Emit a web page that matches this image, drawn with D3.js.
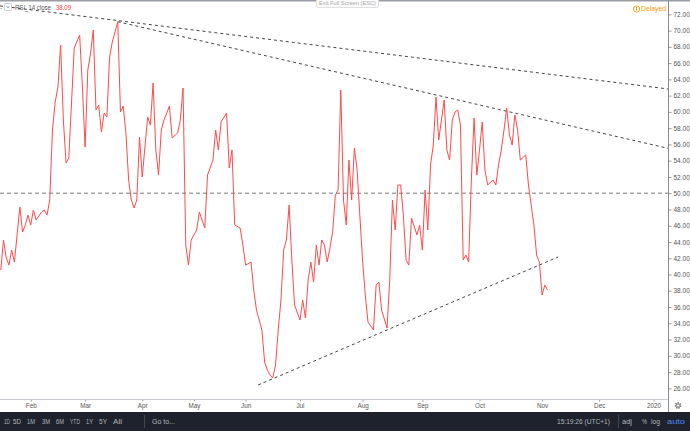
<!DOCTYPE html>
<html><head><meta charset="utf-8">
<script src="https://cdn.jsdelivr.net/npm/d3@7/dist/d3.min.js"></script>
<style>html,body{margin:0;padding:0;background:#fff;overflow:hidden}svg{display:block}</style>
</head><body>
<script>
// bar index (0 = first trading day of Feb 2019) and RSI(14) value
const barIdx = [-11,-10,-9,-8,-7,-6,-5,-4,-3,-2,-1,0,1,2,4,5,6,7,8,9,10,11,12,13,14,15,16,18,19,20,21,22,23,24,25,26,27,28,29,30,32,33,34,35,36,37,38,39,40,41,42,43,44,45,46,47,48,49,51,52,54,55,56,57,58,59,61,62,64,65,67,68,69,70,72,73,74,75,77,78,79,81,82,83,85,86,87,88,89,90,91,92,93,94,95,96,97,99,100,101,102,103,104,105,106,107,108,109,110,111,112,113,114,115,116,117,118,119,120,122,123,124,126,127,128,129,131,132,133,134,135,136,137,138,139,140,142,143,144,145,146,147,148,149,150,152,153,154,155,156,157,158,159,160,161,162,163,164,165,166,167,168,170,171,172,173,174,175,176,177,178,179,180,182,183,184,185,186,187,188,189,190];
const rsi = [40.55,44.24,42.03,41.16,43.0,41.53,44.86,48.3,45.22,46.08,47.31,46.08,47.93,46.7,47.68,47.93,47.31,49.16,57.77,61.21,63.06,68.22,59.0,53.71,54.33,61.09,67.86,69.45,63.06,55.68,65.15,67.24,70.07,60.23,60.84,57.52,59.86,59.37,66.75,68.59,71.09,59.98,60.72,57.4,51.62,49.16,48.18,49.16,56.91,51.99,55.68,59.37,58.38,63.55,55.31,52.23,57.77,59.0,60.72,56.79,57.4,59.0,62.94,43.62,41.16,44.24,45.47,47.68,45.72,52.23,54.08,57.77,55.31,58.76,59.86,53.1,55.31,46.08,45.72,43.62,41.16,41.53,38.09,35.63,33.17,29.23,28.25,27.63,27.27,28.86,33.17,36.86,43.0,44.24,48.54,41.78,36.24,34.4,36.86,34.65,39.32,41.53,39.07,43.62,41.16,44.24,43.62,41.53,43.26,45.22,49.77,50.39,62.69,49.16,46.08,54.08,49.16,55.56,52.85,41.78,37.47,34.15,33.17,38.7,39.07,35.63,33.41,39.32,49.16,45.47,51.01,51.01,47.31,41.78,41.16,46.95,44.86,46.08,43.0,50.39,45.47,53.47,55.92,61.83,56.54,61.46,55.31,54.08,59.0,59.98,60.23,58.38,41.78,42.39,41.53,51.62,59.25,52.23,55.31,58.76,52.85,51.01,51.62,51.01,53.47,55.31,57.77,60.48,57.16,55.92,59.62,57.77,54.08,54.7,51.01,48.54,46.08,42.39,41.53,37.47,38.7,38.09];
const lastValue = "38.09";
const monthLabels = ["Feb","Mar","Apr","May","Jun","Jul","Aug","Sep","Oct","Nov","Dec","2020"];
const monthIdx = [0,20,41,60,79,99,122,144,165,188,209,229];
const yTicks = d3.range(26, 73, 2);
// trend lines: [startIdx, startVal, endIdx, endVal]
const trendLines = [
  [-11.29, 73.03, 234.3, 62.82],
  [32, 71.09, 234.3, 55.52],
  [83.6, 26.41, 193.9, 42.15]
];
const midLevel = 50;
const leftButtons = ["1D","5D","1M","3M","6M","YTD","1Y","5Y","All"];

const W = 690, H = 431;
const plotR = 668, plotT = 4, plotB = 398;
const svg = d3.select("body").append("svg").attr("width", W).attr("height", H);
const font = "'Liberation Sans', Arial, sans-serif";

const x = d3.scaleLinear().domain([-11.29, 234.3]).range([0, plotR]);
const y = d3.scaleLinear().domain([24.81, 73.27]).range([plotB, plotT]);

svg.append("rect").attr("width", W).attr("height", H).attr("fill", "#fff");
svg.append("defs").append("clipPath").attr("id", "clip")
  .append("rect").attr("x", 0).attr("y", 2).attr("width", plotR).attr("height", plotB - 2);

const g = svg.append("g").attr("clip-path", "url(#clip)");
g.append("line").attr("x1", 0).attr("x2", plotR).attr("y1", y(midLevel)).attr("y2", y(midLevel))
  .attr("stroke", "#777").attr("stroke-width", 1).attr("stroke-dasharray", "4,3");
g.selectAll("line.trend").data(trendLines).join("line").attr("class", "trend")
  .attr("x1", d => x(d[0])).attr("y1", d => y(d[1])).attr("x2", d => x(d[2])).attr("y2", d => y(d[3]))
  .attr("stroke", "#444").attr("stroke-width", 1).attr("stroke-dasharray", "3,3");
const pts = barIdx.map((b, i) => [b, rsi[i]]);
g.append("path").datum(pts)
  .attr("d", d3.line().x(d => x(d[0])).y(d => y(d[1])))
  .attr("fill", "none").attr("stroke", "#ff4a4a").attr("stroke-width", 1).attr("stroke-linejoin", "round");

svg.append("rect").attr("x", 0).attr("y", 0).attr("width", W).attr("height", 1.5).attr("fill", "#9a9ca3");

const ya = svg.append("g").attr("transform", `translate(${plotR + 0.5},0)`)
  .call(d3.axisRight(y).tickValues(yTicks).tickFormat(d3.format(".2f")).tickSize(3).tickPadding(2));
ya.select(".domain").remove();
ya.selectAll("line").attr("stroke", "#999");
ya.selectAll("text").attr("font-family", font).attr("font-size", 6.5).attr("fill", "#555");
svg.append("line").attr("x1", plotR + 0.5).attr("x2", plotR + 0.5).attr("y1", 0).attr("y2", 412)
  .attr("stroke", "#8a8d96").attr("stroke-width", 1);

const xa = svg.append("g").attr("transform", `translate(0,${plotB + 1.5})`)
  .call(d3.axisBottom(x).tickValues(monthIdx).tickFormat((d, i) => monthLabels[i]).tickSize(2).tickPadding(2));
xa.select(".domain").remove();
xa.selectAll("line").attr("stroke", "#999");
xa.selectAll("text").attr("font-family", font).attr("font-size", 6.3).attr("fill", "#555");
svg.append("line").attr("x1", 0).attr("x2", plotR).attr("y1", plotB + 1.5).attr("y2", plotB + 1.5)
  .attr("stroke", "#c8cad0").attr("stroke-width", 1);

// gear icon
svg.append("circle").attr("cx", 678).attr("cy", 405.5).attr("r", 2.6).attr("fill", "none")
  .attr("stroke", "#555").attr("stroke-width", 1.4).attr("stroke-dasharray", "1.2,1.1");
svg.append("circle").attr("cx", 678).attr("cy", 405.5).attr("r", 1.6).attr("fill", "none")
  .attr("stroke", "#555").attr("stroke-width", 0.7);

function txt(s, xx, yy, len, fill, size) {
  return svg.append("text").attr("x", xx).attr("y", yy).attr("font-family", font)
    .attr("font-size", size || 6.5).attr("fill", fill).attr("textLength", len)
    .attr("lengthAdjust", "spacingAndGlyphs").text(s);
}

// legend
svg.append("text").attr("x", 0).attr("y", 9.5).attr("font-family", font).attr("font-size", 7).attr("fill", "#888").text("-");
svg.append("rect").attr("x", 4.5).attr("y", 3.5).attr("width", 7).attr("height", 7).attr("rx", 1)
  .attr("fill", "#fff").attr("stroke", "#c8cad0");
svg.append("path").attr("d", "M6.5,6.2 L8,7.7 L9.5,6.2").attr("fill", "none").attr("stroke", "#666").attr("stroke-width", 0.8);
txt("RSI_14 close", 15, 9.5, 36, "#555", 6.8);
txt(lastValue, 56, 9.5, 15, "#f23645", 6.8);

// exit full screen
svg.append("rect").attr("x", 316.5).attr("y", -2).attr("width", 62).attr("height", 9.5).attr("rx", 1.5)
  .attr("fill", "#fafafa").attr("stroke", "#e0e0e0");
txt("Exit Full Screen (ESC)", 319, 5, 57, "#aaa", 5.8);

// delayed
svg.append("circle").attr("cx", 636.5).attr("cy", 9).attr("r", 3.2).attr("fill", "none").attr("stroke", "#ff9800").attr("stroke-width", 0.9);
svg.append("line").attr("x1", 636.5).attr("x2", 636.5).attr("y1", 7).attr("y2", 10.5).attr("stroke", "#ff9800").attr("stroke-width", 0.9);
txt("Delayed", 641, 11.3, 25, "#ff9800", 6.8);

// bottom toolbar
svg.append("rect").attr("x", 0).attr("y", 412).attr("width", W).attr("height", 19).attr("fill", "#1e222d");
const btnX = [4, 13, 27, 42, 56, 70, 86, 99, 113];
const btnW = [6, 8, 8, 8, 8, 10, 7, 8, 9];
leftButtons.forEach((b, i) => txt(b, btnX[i], 424, btnW[i], "#b2b5be", 6.5));
svg.append("line").attr("x1", 144.5).attr("x2", 144.5).attr("y1", 415).attr("y2", 428).attr("stroke", "#434651");
txt("Go to...", 152, 424, 23, "#b2b5be", 6.5);
txt("15:19:26 (UTC+1)", 557, 424, 53, "#b2b5be", 6.5);
svg.append("line").attr("x1", 618.5).attr("x2", 618.5).attr("y1", 415).attr("y2", 428).attr("stroke", "#434651");
txt("adj", 622, 424, 10, "#b2b5be", 6.5);
txt("%", 642, 424, 5, "#b2b5be", 6.5);
txt("log", 651, 424, 9, "#b2b5be", 6.5);
txt("auto", 667, 424, 18, "#4c8bf5", 6.5);
</script>
</body></html>
